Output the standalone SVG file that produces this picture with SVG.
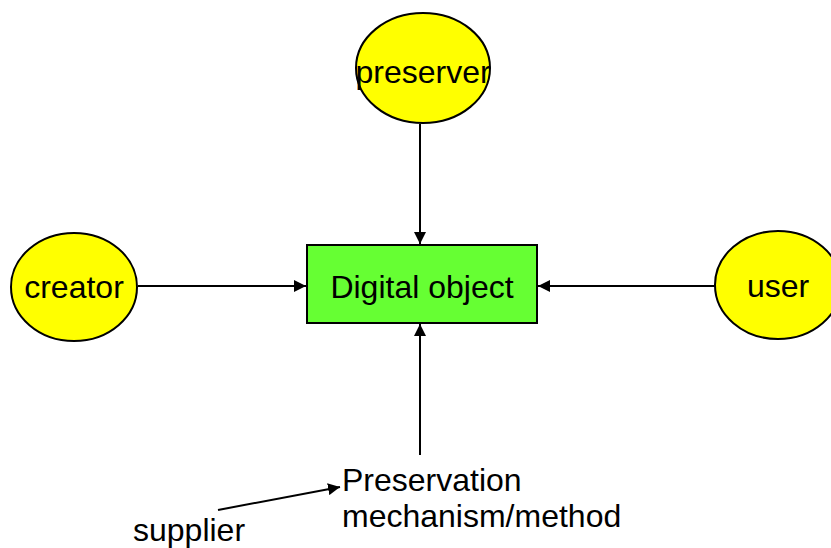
<svg xmlns="http://www.w3.org/2000/svg" width="831" height="548" viewBox="0 0 831 548">
<defs>
<style>
.actor{fill:#FFFF00;stroke:#000;stroke-width:2}
.obj{fill:#66FF33;stroke:#000;stroke-width:2}
.t{font-family:"Liberation Sans",Arial,sans-serif;font-size:32px;fill:#000}
.c{stroke:#000;stroke-width:2;fill:none;marker-end:url(#ah)}
</style>
<marker id="ah" viewBox="0 0 10 10" refX="10" refY="5" markerWidth="6" markerHeight="6" orient="auto" markerUnits="strokeWidth">
<path d="M0,0 L10,5 L0,10 z" fill="#000"/>
</marker>
</defs>
<rect width="831" height="548" fill="#fff"/>
<g id="connectors">
<line class="c" x1="420" y1="124" x2="420" y2="244"/>
<line class="c" x1="138" y1="286" x2="306" y2="286"/>
<line class="c" x1="715" y1="286" x2="538" y2="286"/>
<line class="c" x1="420" y1="455" x2="420" y2="324"/>
<line class="c" x1="218" y1="510" x2="340" y2="487"/>
</g>
<g id="preserver">
<ellipse class="actor" cx="423" cy="68" rx="67" ry="55"/>
<text class="t" x="423" y="83" text-anchor="middle">preserver</text>
</g>
<g id="creator">
<ellipse class="actor" cx="74" cy="287" rx="63" ry="54"/>
<text class="t" x="74" y="298" text-anchor="middle">creator</text>
</g>
<g id="user">
<ellipse class="actor" cx="778" cy="285" rx="63" ry="54"/>
<text class="t" x="778" y="297" text-anchor="middle">user</text>
</g>
<g id="digital-object">
<rect class="obj" x="307" y="245" width="230" height="78"/>
<text class="t" x="422" y="298" text-anchor="middle">Digital object</text>
</g>
<g id="mechanism">
<text class="t" x="342" y="491">Preservation</text>
<text class="t" x="342" y="527">mechanism/method</text>
</g>
<g id="supplier">
<text class="t" x="133" y="541">supplier</text>
</g>
</svg>
